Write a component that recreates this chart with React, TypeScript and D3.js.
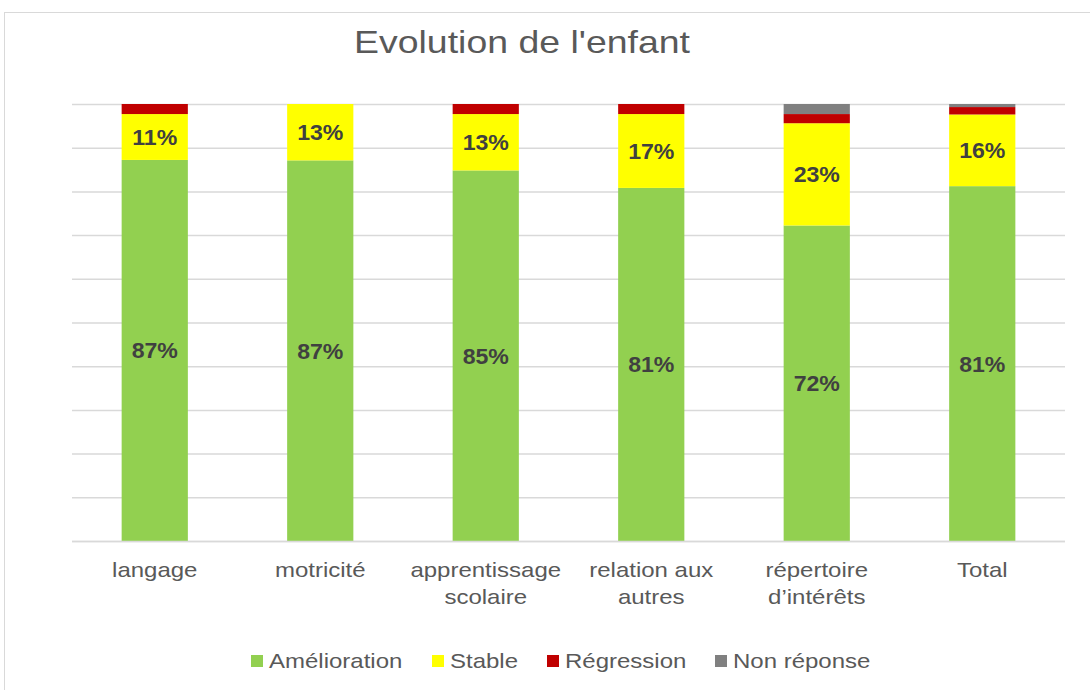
import React, { useEffect, useRef } from "react";
import * as d3 from "d3";

const categories = [
  ["langage"],
  ["motricité"],
  ["apprentissage", "scolaire"],
  ["relation aux", "autres"],
  ["répertoire", "d’intérêts"],
  ["Total"],
];
const amelioration = [87.2, 87.1, 84.8, 80.8, 72.2, 81.2];
const stable = [10.5, 12.9, 12.9, 16.9, 23.4, 16.4];
const regression = [2.3, 0, 2.3, 2.3, 2.1, 1.7];
const nonReponse = [0, 0, 0, 0, 2.3, 0.7];
const seriesNames = ["Amélioration", "Stable", "Régression", "Non réponse"];
const seriesColors = ["#92d050", "#ffff00", "#c00000", "#808080"];
const labelText = [
  ["87%", "87%", "85%", "81%", "72%", "81%"],
  ["11%", "13%", "13%", "17%", "23%", "16%"],
];

export default function App() {
  const svgRef = useRef<SVGSVGElement>(null);

  useEffect(() => {
    const svg = d3.select(svgRef.current);
    svg.selectAll("*").remove();
    const font = "'Liberation Sans', Arial, sans-serif";
    // reference text is rendered a bit wider than Liberation Sans
    const at = (px: number, py: number, s: number) => `translate(${px},${py}) scale(${s},1)`;

    const keys = categories.map((c) => c.join(" "));
    const rows = keys.map((k, i) => ({
      cat: k,
      idx: i,
      "Amélioration": amelioration[i],
      Stable: stable[i],
      "Régression": regression[i],
      "Non réponse": nonReponse[i],
    }));

    // chart frame
    svg.append("rect")
      .attr("x", 4.5).attr("y", 12.5)
      .attr("width", 1100).attr("height", 700)
      .attr("fill", "#fff").attr("stroke", "#d9d9d9");

    const x = d3.scaleBand().domain(keys).range([72, 1065]).paddingInner(0.6).paddingOuter(0.3);
    const y = d3.scaleLinear().domain([0, 100]).range([541, 104]);

    // gridlines
    svg.append("g")
      .selectAll("line")
      .data(y.ticks(10))
      .join("line")
      .attr("x1", 72).attr("x2", 1065)
      .attr("y1", (d) => y(d) + 0.5).attr("y2", (d) => y(d) + 0.5)
      .attr("stroke", "#d9d9d9").attr("stroke-width", 1.5);

    const layers = d3.stack<any>().keys(seriesNames)(rows);

    svg.append("g")
      .selectAll("g")
      .data(layers)
      .join("g")
      .attr("fill", (_, i) => seriesColors[i])
      .selectAll("rect")
      .data((l) => l)
      .join("rect")
      .attr("x", (d) => x(d.data.cat)!)
      .attr("width", x.bandwidth())
      .attr("y", (d) => y(d[1]))
      .attr("height", (d) => y(d[0]) - y(d[1]));

    // data labels for first two series
    layers.slice(0, 2).forEach((layer, li) => {
      svg.append("g")
        .selectAll("text")
        .data(layer)
        .join("text")
        .attr("transform", (d) => at(x(d.data.cat)! + x.bandwidth() / 2, (y(d[0]) + y(d[1])) / 2, 1.05))
        .attr("dy", "0.36em")
        .attr("text-anchor", "middle")
        .attr("font-family", font)
        .attr("font-weight", "bold")
        .attr("font-size", 22)
        .attr("fill", "#404040")
        .text((d) => labelText[li][d.data.idx]);
    });

    // axis line
    svg.append("line")
      .attr("x1", 72).attr("x2", 1065)
      .attr("y1", 541.5).attr("y2", 541.5)
      .attr("stroke", "#d9d9d9").attr("stroke-width", 1.5);

    // category labels
    const cl = svg.append("g");
    categories.forEach((lines, i) => {
      const t = cl.append("text")
        .attr("transform", at(x(keys[i])! + x.bandwidth() / 2, 577, 1.2))
        .attr("text-anchor", "middle")
        .attr("font-family", font)
        .attr("font-size", 20)
        .attr("fill", "#595959");
      lines.forEach((ln, j) => {
        t.append("tspan")
          .attr("x", 0)
          .attr("dy", j === 0 ? 0 : 27)
          .text(ln);
      });
    });

    // title
    svg.append("text")
      .attr("transform", at(522, 53, 1.17))
      .attr("text-anchor", "middle")
      .attr("font-family", font)
      .attr("font-size", 32)
      .attr("fill", "#595959")
      .text("Evolution de l'enfant");

    // legend
    const legendX = [251, 432, 547, 715];
    const lg = svg.append("g");
    seriesNames.forEach((s, i) => {
      lg.append("rect")
        .attr("x", legendX[i]).attr("y", 655)
        .attr("width", 12).attr("height", 12)
        .attr("fill", seriesColors[i]);
      lg.append("text")
        .attr("transform", at(legendX[i] + 18, 668, 1.2))
        .attr("font-family", font)
        .attr("font-size", 20)
        .attr("fill", "#595959")
        .text(s);
    });
  }, []);

  return (
    <svg
      ref={svgRef}
      width={1090}
      height={690}
      style={{ position: "absolute", left: 0, top: 0 }}
    />
  );
}
